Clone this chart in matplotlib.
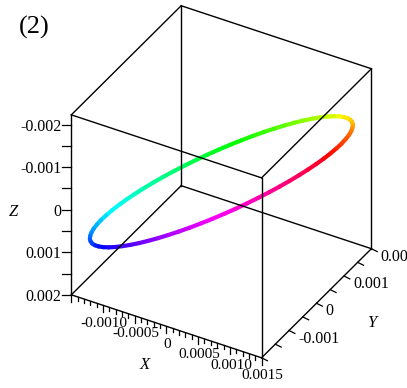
import numpy as np
import matplotlib
matplotlib.use("Agg")
import matplotlib.pyplot as plt
from matplotlib.lines import Line2D
from mpl_toolkits.mplot3d import proj3d
from mpl_toolkits.mplot3d.art3d import Line3DCollection

plt.rcParams["font.family"] = ["Liberation Serif", "DejaVu Serif"]
plt.rcParams["axes.unicode_minus"] = False

# closed orbit, coordinates in units of 1e-4
orbit_x = [15.00, 14.94, 14.77, 14.49, 14.10, 13.59, 12.99, 12.29, 11.49, 10.61, 9.64, 8.60,
           7.50, 6.34, 5.13, 3.88, 2.60, 1.31, 0.00, -1.31, -2.60, -3.88, -5.13, -6.34,
           -7.50, -8.60, -9.64, -10.61, -11.49, -12.29, -12.99, -13.59, -14.10, -14.49, -14.77, -14.94,
           -15.00, -14.94, -14.77, -14.49, -14.10, -13.59, -12.99, -12.29, -11.49, -10.61, -9.64, -8.60,
           -7.50, -6.34, -5.13, -3.88, -2.60, -1.31, 0.00, 1.31, 2.60, 3.88, 5.13, 6.34,
           7.50, 8.60, 9.64, 10.61, 11.49, 12.29, 12.99, 13.59, 14.10, 14.49, 14.77, 14.94]
orbit_y = [10.00, 8.45, 6.84, 5.18, 3.47, 1.74, 0.00, -1.74, -3.47, -5.18, -6.84, -8.45,
           -10.00, -11.47, -12.86, -14.14, -15.32, -16.38, -17.32, -18.13, -18.79, -19.32, -19.70, -19.92,
           -20.00, -19.92, -19.70, -19.32, -18.79, -18.13, -17.32, -16.38, -15.32, -14.14, -12.86, -11.47,
           -10.00, -8.45, -6.84, -5.18, -3.47, -1.74, 0.00, 1.74, 3.47, 5.18, 6.84, 8.45,
           10.00, 11.47, 12.86, 14.14, 15.32, 16.38, 17.32, 18.13, 18.79, 19.32, 19.70, 19.92,
           20.00, 19.92, 19.70, 19.32, 18.79, 18.13, 17.32, 16.38, 15.32, 14.14, 12.86, 11.47]
orbit_z = [-17.35, -18.48, -19.47, -20.32, -21.02, -21.58, -21.98, -22.22, -22.30, -22.22, -21.98, -21.58,
           -21.02, -20.32, -19.47, -18.48, -17.35, -16.11, -14.75, -13.28, -11.73, -10.09, -8.38, -6.62,
           -4.82, -2.99, -1.15, 0.69, 2.52, 4.32, 6.08, 7.79, 9.43, 10.98, 12.45, 13.81,
           15.05, 16.18, 17.17, 18.02, 18.72, 19.28, 19.68, 19.92, 20.00, 19.92, 19.68, 19.28,
           18.72, 18.02, 17.17, 16.18, 15.05, 13.81, 12.45, 10.98, 9.43, 7.79, 6.08, 4.32,
           2.52, 0.69, -1.15, -2.99, -4.82, -6.62, -8.38, -10.09, -11.73, -13.28, -14.75, -16.11]

x_lim = (-0.0015, 0.0015)
y_lim = (-0.002, 0.002)
z_lim = (-0.00223, 0.002)

x_ticks = [-0.0010, -0.0005, 0.0, 0.0005, 0.0010, 0.0015]
x_ticklabels = ["-0.0010", "-0.0005", "0", "0.0005", "0.0010", "0.0015"]
y_ticks = [-0.001, 0.0, 0.001, 0.002]
y_ticklabels = ["-0.001", "0", "0.001", "0.002"]
z_ticks = [-0.002, -0.001, 0.0, 0.001, 0.002]
z_ticklabels = ["-0.002", "-0.001", "0", "0.001", "0.002"]
x_minor = np.arange(-15, 16) * 1e-4
y_minor = np.arange(-4, 5) * 5e-4
z_minor = np.arange(-4, 5) * 5e-4

pts = np.column_stack([orbit_x, orbit_y, orbit_z]) * 1e-4
pts = np.vstack([pts, pts[:1]])
segs = np.stack([pts[:-1], pts[1:]], axis=1)
n = len(segs)
hues = ((np.arange(n) + 0.5 + 11.6) / n) % 1.0

W, H = 407, 388
fig = plt.figure(figsize=(W / 100, H / 100), dpi=100)
ax = fig.add_axes([0.031, 0.018, 1.0, 1.0], projection="3d")
ax.set_proj_type("ortho")
ax.view_init(elev=35, azim=-60)
ax.set_box_aspect((1, 1, 1), zoom=0.952)
ax.computed_zorder = False

ax.set_xlim(*x_lim)
ax.set_ylim(*y_lim)
ax.set_zlim(z_lim[1], z_lim[0])

lc = Line3DCollection(segs, colors=plt.cm.hsv(hues), linewidths=3.0, capstyle="round", zorder=1)
ax.add_collection3d(lc)

# wireframe box
x0, x1 = x_lim
y0, y1 = y_lim
z0, z1 = z_lim
corners = [(x, y, z) for x in (x0, x1) for y in (y0, y1) for z in (z0, z1)]
for i, a in enumerate(corners):
    for b in corners[i + 1:]:
        if sum(p != q for p, q in zip(a, b)) == 1:
            ax.plot(*zip(a, b), color="black", lw=1.0, zorder=2)

for axis in (ax.xaxis, ax.yaxis, ax.zaxis):
    axis.set_ticks([])
    axis.set_pane_color((1, 1, 1, 0))
    axis.pane.set_edgecolor((1, 1, 1, 0))
    axis.line.set_linewidth(0)
ax.grid(False)

# projection is known only after a draw
fig.canvas.draw()


def to_fig(x, y, z, dx=0.0, dy=0.0):
    xs, ys, _ = proj3d.proj_transform(x, y, z, ax.M)
    px, py = ax.transData.transform((xs, ys))
    return (px + dx) / W, (py + dy) / H


def add_ticks(points, minor, ticks, labels, tick_dir, major_len, minor_len, lab_off, ha, va, size):
    for v in minor:
        is_major = abs(round(v / 5e-4) * 5e-4 - v) < 1e-9
        L = major_len if is_major else minor_len
        p = points(v)
        a = to_fig(*p)
        b = to_fig(*p, dx=tick_dir[0] * L, dy=tick_dir[1] * L)
        fig.add_artist(Line2D([a[0], b[0]], [a[1], b[1]], color="black", lw=0.9,
                              transform=fig.transFigure))
    for v, s in zip(ticks, labels):
        fx, fy = to_fig(*points(v), dx=lab_off[0], dy=lab_off[1])
        fig.text(fx, fy, s, fontsize=size, ha=ha, va=va)


add_ticks(lambda v: (x0, y0, v), z_minor, z_ticks, z_ticklabels,
          (-1.0, 0.0), 9, 4.5, (-10, -2), "right", "center", 11.5)
add_ticks(lambda v: (v, y0, z1), x_minor, x_ticks, x_ticklabels,
          (0.0, -1.0), 7, 4, (1, -18), "center", "center", 11)
add_ticks(lambda v: (x1, v, z1), y_minor, y_ticks, y_ticklabels,
          (0.9, -0.45), 6.5, 4, (9, -8), "left", "center", 11.5)

fig.text(0.047, 0.958, "(2)", fontsize=19, va="top")
fig.text(0.034, 0.454, "Z", fontsize=12, style="italic", ha="center", va="center")
fig.text(0.356, 0.059, "X", fontsize=12, style="italic", ha="center", va="center")
fig.text(0.914, 0.168, "Y", fontsize=12, style="italic", ha="center", va="center")

fig.savefig("out.png", dpi=100)
